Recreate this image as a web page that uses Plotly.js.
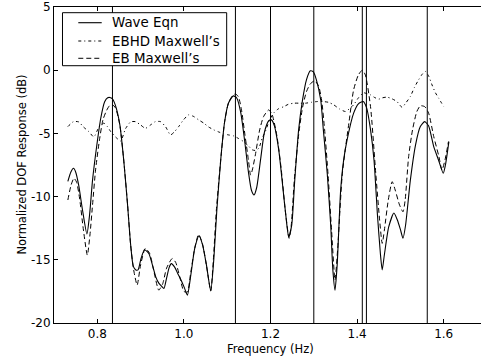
<!DOCTYPE html>
<html>
<head>
<meta charset="utf-8">
<script src="https://cdn.plot.ly/plotly-3.0.1.min.js"></script>
<style>
html,body{margin:0;padding:0;overflow:hidden;background:#fff;}
#chart{width:490px;height:358px;}
</style>
</head>
<body>
<div id="chart"></div>
<script>
// ---- data ----
const waveF = [0.732,0.739,0.745,0.750,0.757,0.766,0.776,0.782,0.789,0.799,
  0.808,0.817,0.824,0.829,0.835,0.842,0.852,0.861,0.870,0.877,
  0.883,0.889,0.894,0.901,0.909,0.919,0.928,0.935,0.942,0.950,
  0.954,0.960,0.966,0.971,0.979,0.986,0.992,1.001,1.008,1.016,
  1.025,1.035,1.043,1.052,1.062,1.069,1.076,1.085,1.094,1.103,
  1.114,1.122,1.131,1.140,1.149,1.156,1.162,1.168,1.177,1.186,
  1.196,1.202,1.209,1.219,1.228,1.237,1.242,1.249,1.256,1.265,
  1.274,1.283,1.292,1.299,1.306,1.316,1.322,1.331,1.339,1.344,
  1.349,1.354,1.362,1.369,1.377,1.392,1.403,1.414,1.422,1.431,
  1.439,1.447,1.454,1.458,1.463,1.473,1.485,1.493,1.500,1.506,
  1.512,1.523,1.535,1.546,1.556,1.565,1.577,1.588,1.599,1.604,
  1.612];
const waveDb = [-8.8,-8.05,-7.76,-8.05,-9.1,-11.1,-12.96,-11.5,-8.7,-5.9,
  -3.8,-2.5,-2.18,-2.16,-2.27,-2.8,-4.3,-7.1,-10.7,-13.8,
  -15.5,-15.8,-15.8,-14.9,-14.2,-14.5,-15.5,-16.35,-16.85,-17.14,
  -17.27,-16.45,-15.6,-15.3,-15.6,-16.1,-16.5,-17.2,-17.8,-16.2,
  -14.1,-13.1,-13.8,-15.4,-17.46,-15.0,-11.1,-7.1,-4.1,-2.6,
  -2.03,-2.2,-3.3,-5.5,-8.05,-9.5,-9.87,-9.3,-7.1,-4.9,
  -4.0,-3.93,-4.4,-6.3,-9.1,-12.0,-13.2,-12.25,-8.7,-4.7,
  -2.35,-0.76,-0.05,-0.13,-0.76,-2.36,-4.7,-8.15,-12.25,-15.8,
  -17.4,-15.4,-9.5,-7.1,-5.5,-3.4,-2.66,-2.48,-2.98,-4.7,
  -7.1,-11.45,-14.6,-15.8,-14.6,-12.4,-11.3,-11.85,-12.6,-13.3,
  -12.25,-8.7,-5.9,-4.46,-4.07,-4.4,-6.05,-7.1,-8.15,-7.5,
  -5.65];

const ebhdF = [0.732,0.745,0.757,0.768,0.781,0.792,0.804,0.815,0.824,0.831,
  0.842,0.854,0.865,0.877,0.888,0.900,0.911,0.923,0.934,0.946,
  0.958,0.969,0.978,0.988,0.999,1.011,1.023,1.034,1.046,1.057,
  1.069,1.080,1.092,1.103,1.115,1.126,1.138,1.149,1.158,1.165,
  1.173,1.181,1.188,1.198,1.207,1.218,1.231,1.241,1.254,1.267,
  1.281,1.294,1.308,1.320,1.334,1.346,1.359,1.373,1.382,1.392,
  1.403,1.415,1.424,1.431,1.440,1.450,1.458,1.469,1.481,1.492,
  1.504,1.511,1.523,1.532,1.542,1.551,1.558,1.565,1.573,1.581,
  1.588,1.600];
const ebhdDb = [-4.46,-4.07,-4.09,-4.49,-4.88,-5.28,-4.49,-4.19,-4.49,-4.86,
  -5.28,-5.6,-4.64,-4.09,-4.07,-4.33,-4.6,-4.33,-4.07,-4.07,
  -4.49,-5.12,-4.88,-4.46,-3.93,-3.53,-3.67,-3.93,-4.19,-4.49,
  -4.72,-4.88,-5.04,-5.12,-5.2,-5.4,-5.65,-5.99,-6.3,-6.35,
  -6.17,-5.36,-4.86,-3.93,-3.4,-3.06,-2.88,-2.7,-2.61,-2.61,
  -2.61,-2.54,-2.48,-2.48,-2.54,-2.74,-3.06,-3.27,-3.06,-2.74,
  -2.19,-1.79,-1.87,-1.95,-2.15,-2.29,-2.19,-2.13,-2.27,-2.48,
  -2.94,-2.66,-2.08,-1.39,-0.76,-0.29,-0.1,-0.44,-1.16,-1.79,
  -2.19,-2.88];

const ebF = [0.732,0.7395,0.746,0.752,0.759,0.768,0.777,0.783,0.789,0.796,
  0.805,0.813,0.821,0.828,0.835,0.842,0.852,0.861,0.870,0.877,
  0.884,0.892,0.900,0.911,0.921,0.930,0.942,0.951,0.960,0.973,
  0.981,0.990,1.000,1.008,1.015,1.025,1.034,1.043,1.052,1.062,
  1.068,1.075,1.085,1.094,1.103,1.112,1.119,1.126,1.133,1.141,
  1.149,1.154,1.158,1.165,1.175,1.184,1.196,1.204,1.215,1.225,
  1.234,1.243,1.248,1.255,1.265,1.274,1.283,1.292,1.302,1.311,
  1.318,1.325,1.333,1.341,1.349,1.355,1.366,1.381,1.392,1.403,
  1.412,1.419,1.431,1.443,1.452,1.458,1.463,1.472,1.481,1.488,
  1.498,1.506,1.511,1.519,1.528,1.538,1.546,1.556,1.565,1.577,
  1.589,1.596,1.603,1.611];
const ebDb = [-10.27,-9.08,-8.55,-8.84,-10.11,-12.65,-14.63,-13.04,-10.66,-7.89,
  -5.51,-3.93,-3.22,-2.82,-2.74,-2.98,-4.33,-7.1,-10.66,-13.83,
  -15.8,-17.0,-15.4,-14.1,-14.5,-15.8,-17.4,-16.9,-15.66,-14.9,
  -15.2,-16.3,-17.5,-17.55,-16.2,-14.07,-13.0,-13.76,-15.42,-17.46,
  -15.02,-11.06,-7.1,-4.09,-2.58,-2.03,-1.87,-2.11,-3.14,-5.12,
  -7.1,-8.3,-7.9,-6.7,-4.72,-3.67,-3.14,-3.53,-5.25,-7.9,
  -11.06,-13.3,-12.25,-8.68,-5.1,-2.95,-1.7,-1.08,-0.84,-1.24,
  -2.36,-4.72,-8.3,-12.65,-16.6,-14.2,-8.15,-4.19,-1.55,-0.37,
  0.0,-0.37,-2.88,-8.13,-11.85,-13.7,-12.65,-10.27,-8.82,-9.48,
  -10.66,-11.2,-10.27,-6.84,-4.72,-3.27,-2.82,-2.88,-3.38,-5.25,
  -6.84,-7.9,-7.1,-5.65];

const natFreqs = [0.835, 1.119, 1.2, 1.3, 1.412, 1.4215, 1.562];

const seriesNames = ["Wave Eqn", "EBHD Maxwell\u2019s", "EB Maxwell\u2019s"];
const yTicks = [5, 0, -5, -10, -15, -20];
const xTicks = [0.8, 1.0, 1.2, 1.4, 1.6];

// ---- styles ----
const styles = [
  {color:'#000', width:1.1},
  {color:'#000', width:1.0, dash:'3px,3px,1px,3px'},
  {color:'#000', width:1.0, dash:'5px,3px'}
];

// ---- traces ----
const common = {type:'scatter', mode:'lines', hoverinfo:'skip', showlegend:false};
const seriesX = [waveF, ebhdF, ebF];
const seriesY = [waveDb, ebhdDb, ebDb];
const traces = seriesX.map((xs, i) => Object.assign({}, common, {
  x: xs, y: seriesY[i], name: seriesNames[i],
  line: Object.assign({shape:'spline', smoothing:0.6}, styles[i])
}));

const shapes = natFreqs.map(f => ({
  type:'line', xref:'x', yref:'paper', x0:f, x1:f, y0:0, y1:1,
  line:{color:'#000', width:1}, layer:'above'
}));

// manual legend (box, sample lines, labels)
const lgBox = {x0:0.0196, x1:0.3988, y0:0.8142, y1:0.982};
const lgRows = [0.9503, 0.8924, 0.8377];
shapes.push({type:'rect', xref:'paper', yref:'paper',
  x0:lgBox.x0, x1:lgBox.x1, y0:lgBox.y0, y1:lgBox.y1,
  fillcolor:'#fff', line:{color:'#000', width:1}, layer:'above'});
const annotations = [];
lgRows.forEach((ry, i) => {
  shapes.push({type:'line', xref:'paper', yref:'paper',
    x0:0.0561, x1:0.1102, y0:ry, y1:ry, line:styles[i], layer:'above'});
  annotations.push({xref:'paper', yref:'paper', x:0.1293, y:ry,
    xanchor:'left', yanchor:'middle', showarrow:false,
    text:seriesNames[i], font:{size:13.4, color:'#000'}});
});
// axis titles
annotations.push({xref:'paper', yref:'paper', x:0.5, y:-0.081,
  xanchor:'center', yanchor:'middle', showarrow:false,
  text:'Frequency (Hz)', font:{size:11.5, color:'#000'}});
annotations.push({xref:'paper', yref:'paper', x:-0.075, y:0.5,
  xanchor:'center', yanchor:'middle', showarrow:false, textangle:-90,
  text:'Normalized DOF Response (dB)', font:{size:11.5, color:'#000'}});

const axisCommon = {
  showline:true, linecolor:'#000', linewidth:1, mirror:'ticks',
  ticks:'inside', ticklen:4, tickwidth:1, tickcolor:'#000',
  showgrid:false, zeroline:false, tickfont:{size:12, color:'#000'}
};

const layout = {
  width:490, height:358,
  margin:{l:54, r:3, t:7, b:35},
  paper_bgcolor:'#fff', plot_bgcolor:'#fff',
  font:{family:'DejaVu Sans, sans-serif', color:'#000', size:12},
  showlegend:false,
  xaxis: Object.assign({}, axisCommon, {
    range:[0.7, 1.7], tickvals:xTicks, ticktext:xTicks.map(v=>v.toFixed(1))
  }),
  yaxis: Object.assign({}, axisCommon, {
    range:[-20, 5], tickvals:yTicks, ticktext:yTicks.map(String)
  }),
  shapes: shapes,
  annotations: annotations
};

Plotly.newPlot('chart', traces, layout, {staticPlot:true, displayModeBar:false});
</script>
</body>
</html>
